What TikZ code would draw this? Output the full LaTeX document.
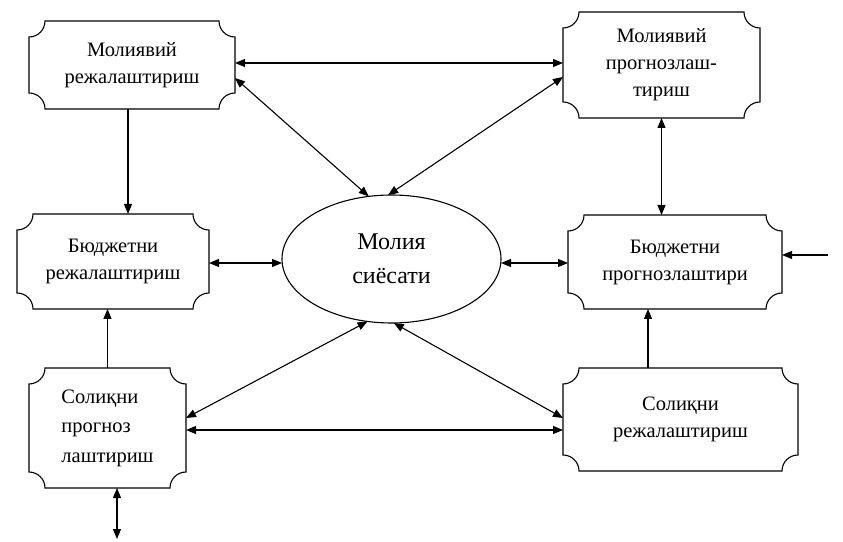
\documentclass[tikz,border=0pt]{standalone}
\usepackage{fontspec}
\setmainfont{Liberation Serif}
\usetikzlibrary{arrows.meta,shapes.geometric,calc}
\newcommand\plaqueshape[1]{%
  \draw[boxline] ([xshift=16pt]#1.north west) -- ([xshift=-16pt]#1.north east)
    arc[start angle=180,end angle=270,radius=16pt]
    -- ([yshift=16pt]#1.south east)
    arc[start angle=90,end angle=180,radius=16pt]
    -- ([xshift=16pt]#1.south west)
    arc[start angle=0,end angle=90,radius=16pt]
    -- ([yshift=-16pt]#1.north west)
    arc[start angle=270,end angle=360,radius=16pt] -- cycle;}
\tikzset{
  boxline/.style={line width=1.1pt},
  boxtext/.style={inner sep=0pt, outer sep=0pt, align=center, font=\fontsize{20.5}{27}\selectfont},
  arr/.style={-{Triangle[length=10pt,width=8pt]}, line width=1.1pt},
  darr/.style={{Triangle[length=10pt,width=8pt]}-{Triangle[length=10pt,width=8pt]}, line width=1.1pt}
}
\begin{document}
\begin{tikzpicture}[x=1pt,y=1pt]
\fill[white] (0,0) rectangle (843,541);
\useasboundingbox (0,0) rectangle (843,541);
% boxes
\node[boxtext, minimum width=206pt, minimum height=88pt] (B1) at (132,476) {Молиявий\\режалаштириш};
\node[boxtext, minimum width=197pt, minimum height=106pt] (B2) at (661.5,476) {Молиявий\\прогнозлаш-\\тириш};
\node[boxtext, minimum width=192pt, minimum height=95pt] (B3) at (113,279.5) {Бюджетни\\режалаштириш};
\node[boxtext, minimum width=214pt, minimum height=94pt] (B4) at (675,279) {Бюджетни\\прогнозлаштири};
\node[boxtext, minimum width=157pt, minimum height=120pt, align=left, font=\fontsize{20.5}{29.5}\selectfont] (B5) at (107.5,113) {Солиқни\\прогноз\\лаштириш};
\node[boxtext, minimum width=235pt, minimum height=103pt] (B6) at (680.5,121.5) {Солиқни\\режалаштириш};
\foreach \b in {B1,B2,B3,B4,B5,B6} {\plaqueshape{\b}}
\node[ellipse, draw, line width=1.1pt, inner sep=0pt, outer sep=0pt, minimum width=219pt, minimum height=128pt, align=center, font=\fontsize{24}{34}\selectfont] (E) at (391.5,282) {Молия\\сиёсати};
% connectors
\draw[darr] ([yshift=2pt]B1.east) -- ([yshift=2pt]B1.east -| B2.west);
\draw[darr] ([yshift=-13pt]B1.east) -- (E.110.7);
\draw[darr] ([yshift=-12pt]B2.west) -- (E.93);
\draw[arr] ([xshift=-4pt]B1.south) -- ([xshift=-4pt]B1.south |- B3.north);
\draw[arr] (B5.north) -- (B5.north |- B3.south);
\draw[darr] ([yshift=-1.5pt]B3.east) -- ([yshift=-1.5pt]B3.east -| E.west);
\draw[darr] ([yshift=-1pt]B4.west -| E.east) -- ([yshift=-1pt]B4.west);
\coordinate (ext) at (828,286);
\draw[arr] (ext) -- (ext -| B4.east);
\draw[darr] (B2.south) -- (B2.south |- B4.north);
\draw[arr] ([xshift=-32.5pt]B6.north) -- ([xshift=-32.5pt]B6.north |- B4.south);
\draw[darr] (E.249) -- ([yshift=10pt]B5.east);
\draw[darr] (E.272) -- ([yshift=1.5pt]B6.west);
\draw[darr] ([yshift=-2pt]B5.east) -- ([yshift=-2pt]B5.east -| B6.west);
\coordinate (bot) at (117,2);
\draw[darr] ([xshift=9.5pt]B5.south) -- (bot);
\end{tikzpicture}
\end{document}
